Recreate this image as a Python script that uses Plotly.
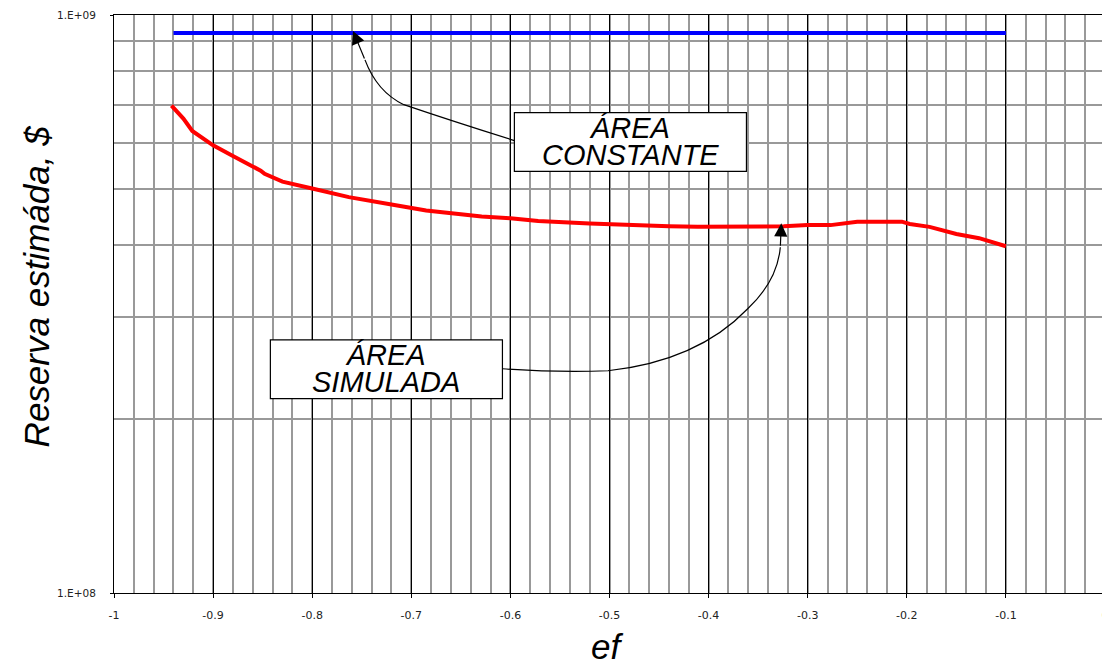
import plotly.graph_objects as go

# ---- data ----
ef_simulada = [-0.942, -0.93, -0.921, -0.90, -0.88, -0.863, -0.852, -0.848, -0.83, -0.80,
               -0.763, -0.72, -0.703, -0.685, -0.65, -0.629, -0.60, -0.572, -0.52, -0.478,
               -0.44, -0.411, -0.36, -0.324, -0.30, -0.277, -0.25, -0.205, -0.197, -0.177,
               -0.15, -0.127, -0.10]
reserva_simulada = [6.97e8, 6.62e8, 6.30e8, 5.95e8, 5.70e8, 5.50e8, 5.38e8, 5.31e8, 5.15e8, 5.01e8,
                    4.84e8, 4.70e8, 4.65e8, 4.59e8, 4.52e8, 4.48e8, 4.45e8, 4.40e8, 4.36e8, 4.33e8,
                    4.31e8, 4.30e8, 4.30e8, 4.31e8, 4.33e8, 4.33e8, 4.39e8, 4.39e8, 4.35e8, 4.30e8,
                    4.18e8, 4.11e8, 3.98e8]

ef_constante = [-0.94, -0.10]
reserva_constante = [9.31e8, 9.31e8]

x_tickvals = [-1, -0.9, -0.8, -0.7, -0.6, -0.5, -0.4, -0.3, -0.2, -0.1, 0]
x_ticktext = ["-1", "-0.9", "-0.8", "-0.7", "-0.6", "-0.5", "-0.4", "-0.3", "-0.2", "-0.1", "0"]
y_tickvals = [1e8, 1e9]
y_ticktext = ["1.E+08", "1.E+09"]
y_minor_vals = [2e8, 3e8, 4e8, 5e8, 6e8, 7e8, 8e8, 9e8]

# ---- layout helpers (page pixel -> paper); page body has an 8px margin ----
OFF = 8
L, R, T, B = 114, 1109, 13, 593
W, H = 1110 - OFF, 667 - OFF
def px(x):
    return (x - L) / (R - L)
def py(y):
    return (B - y) / (B - T)

fig = go.Figure()
fig.add_trace(go.Scatter(x=ef_constante, y=reserva_constante, mode="lines",
                         line=dict(color="#0000FF", width=4), showlegend=False))
fig.add_trace(go.Scatter(x=ef_simulada, y=reserva_simulada, mode="lines",
                         line=dict(color="#FF0000", width=4), showlegend=False))

def path(points):
    s = "M {:.5f} {:.5f}".format(px(points[0][0]), py(points[0][1]))
    i = 1
    while i < len(points):
        (cx, cy), (ex, ey) = points[i], points[i + 1]
        s += " Q {:.5f} {:.5f} {:.5f} {:.5f}".format(px(cx), py(cy), px(ex), py(ey))
        i += 2
    return s

def rect(x0, y0, x1, y1):
    return dict(type="rect", xref="paper", yref="paper",
                x0=px(x0), x1=px(x1), y0=py(y1), y1=py(y0),
                fillcolor="white", line=dict(color="black", width=1.2))

shapes = [
    dict(type="path", xref="paper", yref="paper",
         path=path([(516, 139), (455, 120), (405, 103), (378, 90), (366, 58)]),
         line=dict(color="black", width=1.2)),
    dict(type="path", xref="paper", yref="paper",
         path=path([(504, 368), (560, 372), (610, 370), (700, 360), (750, 308), (780, 280), (783, 246)]),
         line=dict(color="black", width=1.2)),
    rect(516, 111, 749, 170),
    rect(271, 339, 504, 398),
]

FONT = "Liberation Sans, Arial"
def box_text(cx, cy, l1, l2):
    span = "<span style='font-size:29px'><i>{}</i></span>"
    return dict(x=px(cx), y=py(cy), xref="paper", yref="paper", showarrow=False,
                text=span.format(l1) + "<br>" + span.format(l2),
                font=dict(family=FONT, size=21, color="black"), align="center",
                xanchor="center", yanchor="middle")

annotations = [
    # arrowheads
    dict(x=px(354), y=py(29), xref="paper", yref="paper", text="", showarrow=True,
         ax=366 - 354, ay=58 - 29, arrowhead=2, arrowsize=2.2, arrowwidth=1.2, arrowcolor="black"),
    dict(x=px(784), y=py(222), xref="paper", yref="paper", text="", showarrow=True,
         ax=783 - 784, ay=246 - 222, arrowhead=2, arrowsize=2.2, arrowwidth=1.2, arrowcolor="black"),
    box_text(632.5, 140, "ÁREA", "CONSTANTE"),
    box_text(387.5, 368, "ÁREA", "SIMULADA"),
    # axis titles
    dict(x=px(36), y=py(285), xref="paper", yref="paper", showarrow=False,
         text="<i>Reserva estimáda, $</i>", textangle=-90,
         font=dict(family=FONT, size=35, color="black"),
         xanchor="center", yanchor="middle"),
    dict(x=px(609), y=py(647), xref="paper", yref="paper", showarrow=False,
         text="<i>ef</i>",
         font=dict(family=FONT, size=35, color="black"),
         xanchor="center", yanchor="middle"),
]

fig.update_layout(
    width=W, height=H,
    margin=dict(l=L - OFF, r=W - (R - OFF), t=T - OFF, b=H - (B - OFF), pad=0),
    paper_bgcolor="white", plot_bgcolor="white",
    shapes=shapes, annotations=annotations,
    xaxis=dict(range=[-1, 0], tickvals=x_tickvals, ticktext=x_ticktext,
               showgrid=True, gridcolor="black", gridwidth=1.3,
               ticks="outside", ticklen=4, tickcolor="black",
               tickfont=dict(family="DejaVu Sans", size=11, color="#222"),
               ticklabelstandoff=8, ticklabeloverflow="allow",
               showline=True, linecolor="black", linewidth=1, mirror=True,
               minor=dict(dtick=0.02, showgrid=True, gridcolor="#999999", gridwidth=1.5, ticks=""),
               zeroline=False, layer="below traces"),
    yaxis=dict(type="log", range=[8, 9], tickvals=y_tickvals, ticktext=y_ticktext,
               showgrid=False,
               ticks="outside", ticklen=3, tickcolor="black",
               tickfont=dict(family="DejaVu Sans", size=10.5, color="#222"),
               ticklabelstandoff=12, ticklabeloverflow="allow",
               showline=True, linecolor="black", linewidth=1, mirror=True,
               minor=dict(tickvals=y_minor_vals, showgrid=True, gridcolor="#999999", gridwidth=1.5, ticks=""),
               zeroline=False),
)

fig.write_html("out.html")
